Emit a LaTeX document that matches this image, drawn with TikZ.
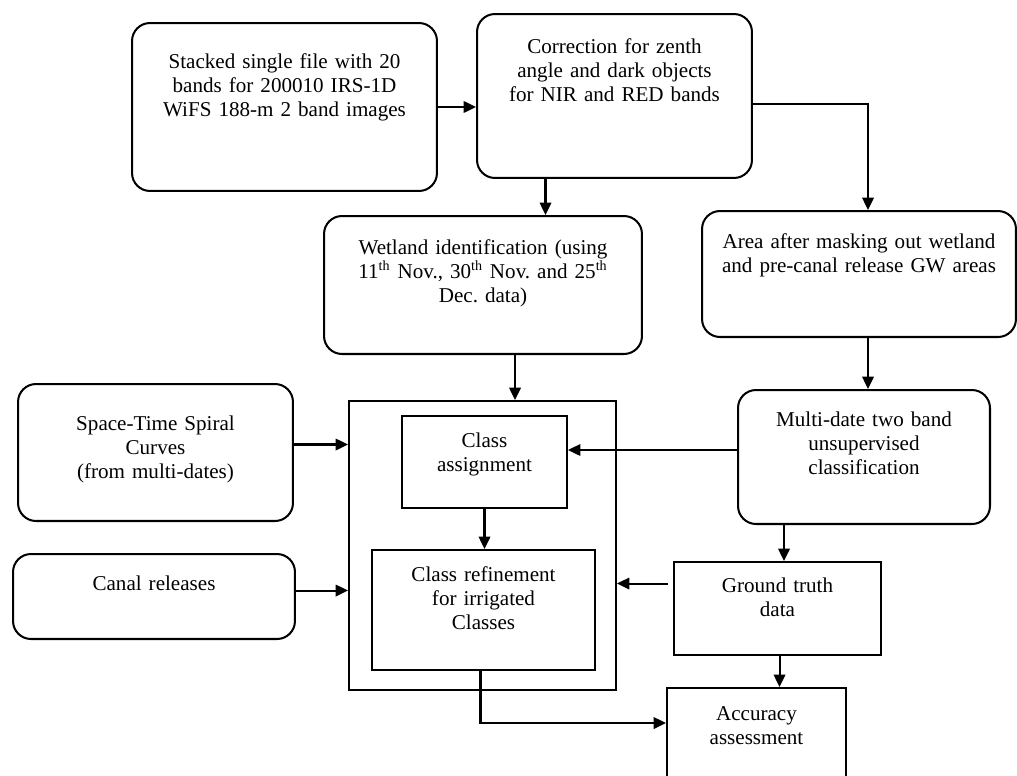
\documentclass[tikz,border=0pt]{standalone}
\usepackage{fontspec}
\setmainfont{Liberation Serif}
\usetikzlibrary{arrows.meta, calc}
\frenchspacing

\begin{document}
\begin{tikzpicture}[x=0.02cm, y=-0.02cm, line width=1.15pt,
    blk/.style={draw, rounded corners=0.36cm, align=center, inner sep=0pt, anchor=north,
        font=\fontsize{12}{13.9}\selectfont},
    sq/.style={blk, rounded corners=0pt},
    arr/.style={-{Triangle[length=7pt, width=6.5pt]}}]
        \useasboundingbox (0,0) rectangle (1017,775);

        % Input row
        \node[blk, text width=6.10cm, text height=0.90cm, text depth=2.46cm] (stack) at (284.5,22)
            {Stacked single file with 20\\ bands for 200010 IRS-1D\\ WiFS 188-m 2 band images};
        \node[blk, text width=5.50cm, text height=0.78cm, text depth=2.50cm] (corr) at (614.5,13)
            {Correction for zenth\\ angle and dark objects\\ for NIR and RED bands};

        % Masking row
        \node[blk, text width=6.36cm, text height=0.76cm, text depth=2.00cm] (wet) at (483,215)
            {Wetland identification (using\\ 11\textsuperscript{th} Nov., 30\textsuperscript{th} Nov. and 25\textsuperscript{th}\\ Dec. data)};
        \node[blk, text width=6.28cm, text height=0.74cm, text depth=1.78cm] (area) at (859,210)
            {Area after masking out wetland\\ and pre-canal release GW areas};

        % Side inputs
        \node[blk, text width=5.50cm, text height=0.92cm, text depth=1.82cm] (space) at (155.5,383)
            {Space-Time Spiral\\ Curves\\ (from multi-dates)};
        \node[blk, text width=5.64cm, text height=0.72cm, text depth=0.98cm] (canal) at (154,553)
            {Canal releases};
        \node[blk, text width=5.04cm, text height=0.72cm, text depth=1.96cm] (multi) at (864,389)
            {Multi-date two band\\ unsupervised\\ classification};

        % Classification frame
        \node[draw, minimum width=5.34cm, minimum height=5.78cm, inner sep=0pt] (frame) at (482.5,545.5) {};
        \node[sq, text width=3.30cm, text height=0.62cm, text depth=1.22cm] (assign) at (484.5,415)
            {Class\\ assignment};
        \node[sq, text width=4.46cm, text height=0.62cm, text depth=1.78cm] (refine) at (483.5,549)
            {Class refinement\\ for irrigated\\ Classes};

        % Checking
        \node[sq, text width=4.14cm, text height=0.60cm, text depth=1.26cm] (truth) at (777.5,561)
            {Ground truth\\ data};
        \node[sq, text width=3.58cm, text height=0.64cm, text depth=1.42cm] (acc) at (756.5,687)
            {Accuracy\\ assessment};

        % Connector ends
        \coordinate (corrout) at ($(corr.south)+(-69,0)$);
        \coordinate (corrside) at ($(corr.east)+(0,8)$);
        \coordinate (areain) at ($(area.north)+(9,0)$);
        \coordinate (wetout) at ($(wet.south)+(32,0)$);
        \coordinate (areaout) at ($(area.south)+(9,0)$);
        \coordinate (multiside) at ($(multi.west)+(0,-7)$);
        \coordinate (multiout) at ($(multi.south)+(-80,0)$);
        \coordinate (spaceout) at ($(space.east)+(0,-8)$);
        \coordinate (canalout) at ($(canal.east)+(-2,-6)$);
        \coordinate (truthside) at ($(truth.west)+(-5,-25)$);
        \coordinate (truthout) at ($(truth.south)+(2,0)$);
        \coordinate (refineout) at ($(refine.south)+(-3,0)$);
        \coordinate (accin) at ($(acc.north west)+(0,36)$);

        % Connectors
        \draw[arr] (stack.east) -- (stack.east -| corr.west);
        \draw[arr] (corrout) -- (corrout |- wet.north);
        \draw[arr] (corrside) -| (areain);
        \draw[arr] (wetout) -- (wetout |- frame.north);
        \draw[arr] (areaout) -- (areaout |- multi.north);
        \draw[arr] (multiside) -- (multiside -| assign.east);
        \draw[arr] (spaceout) -- (spaceout -| frame.west);
        \draw[arr] (canalout) -- (canalout -| frame.west);
        \draw[arr] (assign.south) -- (assign.south |- refine.north);
        \draw[arr] (truthside) -- (truthside -| frame.east);
        \draw[arr] (multiout) -- (multiout |- truth.north);
        \draw[arr] (truthout) -- (truthout |- acc.north);
        \draw[arr] (refineout) |- (accin);
    \end{tikzpicture}
\end{document}
